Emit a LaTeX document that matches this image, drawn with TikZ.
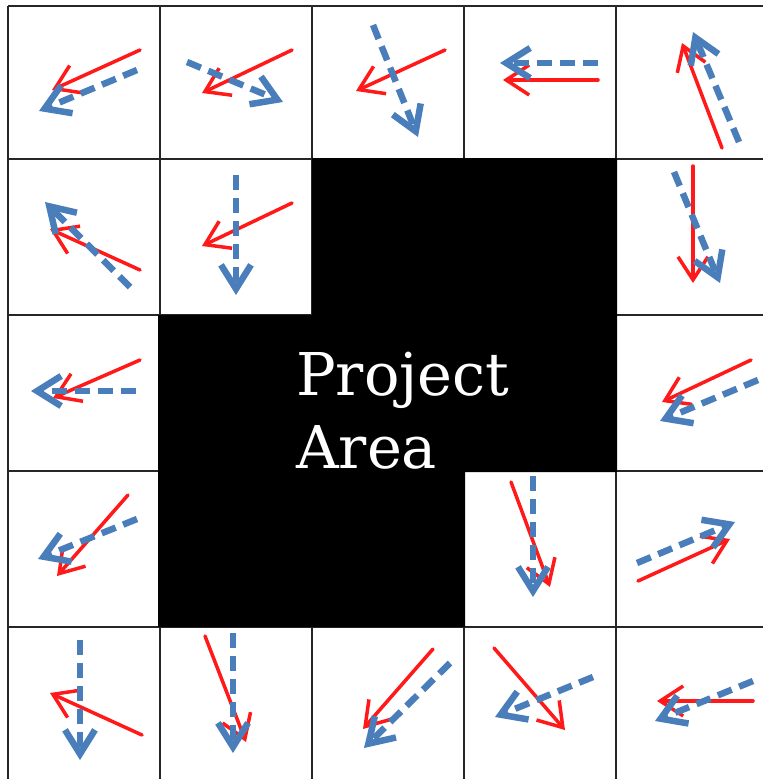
\documentclass[tikz,border=0pt]{standalone}
\usepackage{fontspec}
\newfontfamily\areafont{DejaVu Serif}
\usetikzlibrary{arrows.meta}
\definecolor{arrred}{RGB}{255,25,25}
\definecolor{arrblue}{RGB}{74,126,187}
\tikzset{
  redarr/.style={draw=arrred, line width=3.5pt, line cap=round,
    -{Straight Barb[length=23pt,width=30pt,line width=3.5pt]}},
  bluearr/.style={draw=arrblue, line width=6.5pt, dash pattern=on 15pt off 8pt,
    -{Straight Barb[length=24pt,width=30pt,line width=6.5pt]}},
  gridline/.style={draw=black!85, line width=2pt},
  arealabel/.style={text=white, font=\areafont\fontsize{59}{73}\selectfont, anchor=base west, inner sep=0pt}
}
\begin{document}
\begin{tikzpicture}[x=1pt,y=-1pt]
\useasboundingbox (0,0) rectangle (763,779);
\fill[white] (0,0) rectangle (763,779);
% grid
\foreach \gx in {8,160,312,464,616} \draw[gridline] (\gx,6) -- (\gx,779);
\foreach \gy in {6,159,315,471,627} \draw[gridline] (8,\gy) -- (763,\gy);
% project area
\fill[black] (312,158) -- (617,158) -- (617,472) -- (465,472) -- (465,627) -- (158,627) -- (158,315) -- (312,315) -- cycle;
\node[arealabel] (p1) at (296,395) {Project};
\node[arealabel] (p2) at (296,468) {Area};
% row 0
\draw[redarr] (140,50) -- (52,90);
\draw[bluearr] (137,70) -- (39,111);
\draw[redarr] (292,50) -- (202,93);
\draw[bluearr] (187,62) -- (283,102);
\draw[redarr] (445,50) -- (356,91);
\draw[bluearr] (373,25) -- (418,137);
\draw[redarr] (598,80) -- (503,80);
\draw[bluearr] (598,63) -- (500,63);
\draw[redarr] (722,148) -- (682,43);
\draw[bluearr] (739,142) -- (693,32);
% row 1
\draw[redarr] (140,270) -- (50,229);
\draw[bluearr] (130,287) -- (45,202);
\draw[redarr] (292,203) -- (202,246);
\draw[bluearr] (236,175) -- (236,295);
\draw[redarr] (693,166) -- (693,283);
\draw[bluearr] (674,172) -- (720,283);
% row 2
\draw[redarr] (140,360) -- (53,398);
\draw[bluearr] (136,391) -- (31,391);
\draw[redarr] (751,360) -- (662,402);
\draw[bluearr] (758,380) -- (660,421);
% row 3
\draw[redarr] (128,495) -- (57,576);
\draw[bluearr] (137,519) -- (38,559);
\draw[redarr] (511,482) -- (550,587);
\draw[bluearr] (533,476) -- (533,597);
\draw[redarr] (638,581) -- (730,539);
\draw[bluearr] (637,563) -- (735,522);
% row 4
\draw[redarr] (142,735) -- (50,693);
\draw[bluearr] (80,640) -- (80,760);
\draw[redarr] (205,636) -- (246,742);
\draw[bluearr] (233,633) -- (233,753);
\draw[redarr] (433,649) -- (363,729);
\draw[bluearr] (450,663) -- (364,748);
\draw[redarr] (494,648) -- (565,730);
\draw[bluearr] (593,677) -- (495,717);
\draw[redarr] (753,701) -- (657,701);
\draw[bluearr] (753,681) -- (655,721);
\end{tikzpicture}
\end{document}
